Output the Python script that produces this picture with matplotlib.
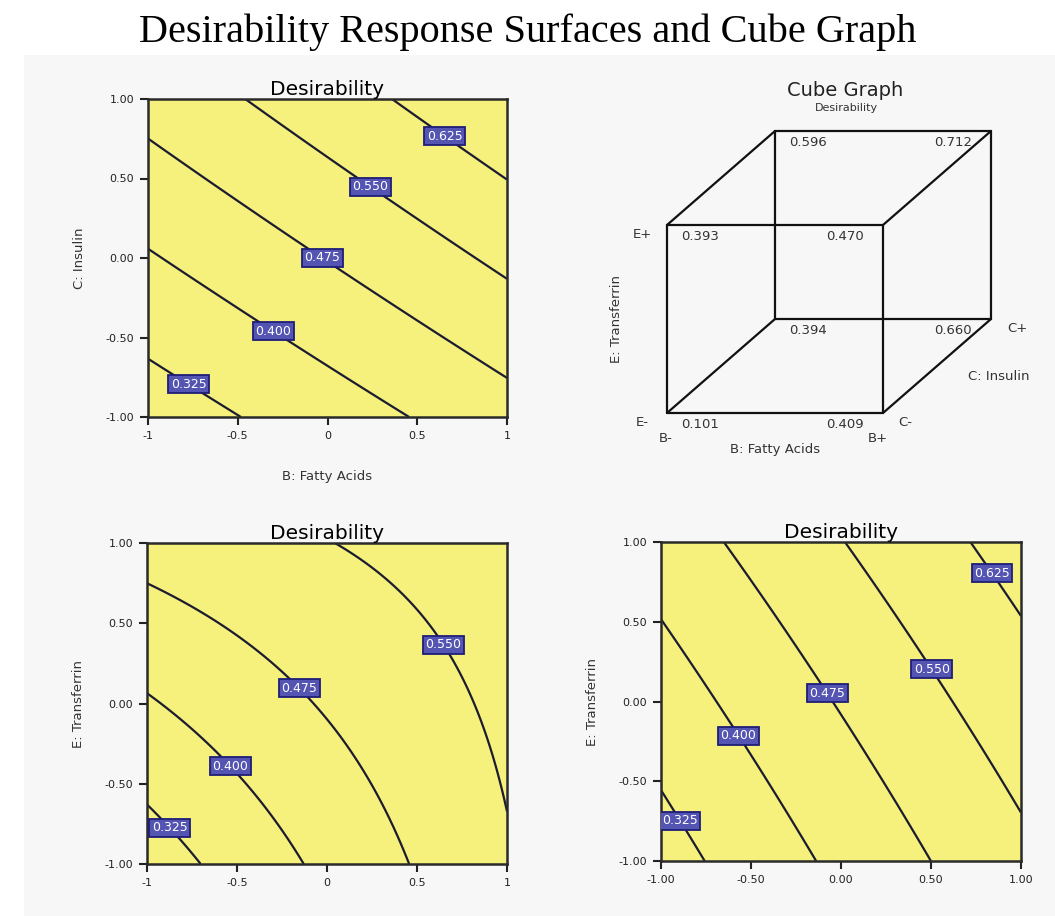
import numpy as np
import matplotlib
matplotlib.use("Agg")
import matplotlib.pyplot as plt
from matplotlib.patches import Rectangle

plt.rcParams['font.family'] = ['DejaVu Sans']

# contour levels shown in the three response surface plots
levels_bc = [0.325, 0.400, 0.475, 0.550, 0.625]
levels_be = [0.325, 0.400, 0.475, 0.550]
levels_ce = [0.325, 0.400, 0.475, 0.550, 0.625]

# points (x, y in coded units), one list per level
lines_bc = [
    [(-1, -0.64), (-0.76, -0.77), (-0.51, -1)],
    [(-1, 0.04), (-0.30, -0.455), (0.44, -1)],
    [(-1, 0.76), (-0.03, 0.0), (1, -0.74)],
    [(-0.46, 1), (0.24, 0.448), (1, -0.14)],
    [(0.34, 1), (0.665, 0.784), (1, 0.48)],
]
lines_be = [
    [(-1, -0.64), (-0.855, -0.755), (-0.707, -1)],
    [(-1, 0.032), (-0.53, -0.382), (-0.147, -1)],
    [(-1, 0.757), (-0.147, 0.105), (0.453, -1)],
    [(0.054, 1), (0.629, 0.353), (1, -0.61)],
]
lines_ce = [
    [(-1, -0.566), (-0.874, -0.733), (-0.763, -1)],
    [(-1, 0.499), (-0.578, -0.22), (-0.148, -1)],
    [(-0.643, 1), (-0.074, 0.054), (0.496, -1)],
    [(0.024, 1), (0.511, 0.207), (1, -0.681)],
    [(0.709, 1), (0.848, 0.812), (1, 0.509)],
]

# where the contour labels sit
labpos_bc = [(-0.76, -0.77), (-0.30, -0.455), (-0.03, 0.0), (0.24, 0.448), (0.665, 0.784)]
labpos_be = [(-0.855, -0.755), (-0.53, -0.382), (-0.147, 0.105), (0.629, 0.353)]
labpos_ce = [(-0.874, -0.733), (-0.578, -0.22), (-0.074, 0.054), (0.511, 0.207), (0.848, 0.812)]

# cube graph: desirability at each corner (B, C, E)
cube_b = [-1, 1, -1, 1, -1, 1, -1, 1]
cube_c = [-1, -1, 1, 1, -1, -1, 1, 1]
cube_e = [-1, -1, -1, -1, 1, 1, 1, 1]
cube_d = [0.101, 0.409, 0.394, 0.660, 0.393, 0.470, 0.596, 0.712]

ticks = [-1, -0.5, 0, 0.5, 1]
ticklab_short = ['-1', '-0.5', '0', '0.5', '1']
ticklab_long = ['-1.00', '-0.50', '0.00', '0.50', '1.00']

W, H = 1055, 916
fig = plt.figure(figsize=(W / 100, H / 100), dpi=100)
bg = Rectangle((24 / W, 0), 1, 1 - 55 / H, transform=fig.transFigure,
               facecolor='#f7f7f7', edgecolor='none', zorder=-10)
fig.add_artist(bg)

fig.text(0.5, 1 - 32 / H, 'Desirability Response Surfaces and Cube Graph',
         family='Liberation Serif', fontsize=29, ha='center', va='center')


def px_axes(x0, y0, x1, y1):
    return fig.add_axes([x0 / W, 1 - y1 / H, (x1 - x0) / W, (y1 - y0) / H])


def fit_surface(levels, lines):
    rows, vals = [], []
    for lev, pts in zip(levels, lines):
        for x, y in pts:
            rows.append([1, x, y, x * y, x * x, y * y])
            vals.append(lev)
    coef, *_ = np.linalg.lstsq(np.array(rows), np.array(vals), rcond=None)
    return coef


def contour_panel(ax, levels, lines, labpos, xlab, ylab, xticklabels):
    coef = fit_surface(levels, lines)
    g = np.linspace(-1, 1, 301)
    X, Y = np.meshgrid(g, g)
    Z = coef[0] + coef[1] * X + coef[2] * Y + coef[3] * X * Y + coef[4] * X ** 2 + coef[5] * Y ** 2
    ax.set_facecolor('#f6f07c')
    cs = ax.contour(X, Y, Z, levels=levels, colors='#1c1c30', linewidths=1.6)
    txts = ax.clabel(cs, levels, inline=False, fmt='%.3f', manual=labpos, fontsize=9)
    for t in txts:
        t.set_rotation(0)
        t.set_color('white')
        t.set_bbox(dict(boxstyle='square,pad=0.2', facecolor='#5454b2',
                        edgecolor='#1e1e78', linewidth=1.3))
    ax.set_xlim(-1, 1)
    ax.set_ylim(-1, 1)
    ax.set_xticks(ticks)
    ax.set_xticklabels(xticklabels)
    ax.set_yticks(ticks)
    ax.set_yticklabels(ticklab_long)
    ax.tick_params(direction='out', length=6, width=1.5, labelsize=8, colors='#222222', pad=4)
    for s in ax.spines.values():
        s.set_linewidth(1.8)
        s.set_color('#2a2a2a')
    ax.set_title('Desirability', fontsize=14.5, pad=1)
    if xlab:
        ax.set_xlabel(xlab, fontsize=9.5, labelpad=21, color='#333333')
    ax.set_ylabel(ylab, fontsize=9.5, labelpad=14, color='#333333')


ax1 = px_axes(148, 99, 507, 417)
contour_panel(ax1, levels_bc, lines_bc, labpos_bc, 'B: Fatty Acids', 'C: Insulin', ticklab_short)

ax3 = px_axes(147, 543, 507, 864)
contour_panel(ax3, levels_be, lines_be, labpos_be, None, 'E: Transferrin', ticklab_short)

ax4 = px_axes(661, 542, 1021, 861)
contour_panel(ax4, levels_ce, lines_ce, labpos_ce, None, 'E: Transferrin', ticklab_long)

# cube graph
axc = px_axes(560, 80, 1055, 470)
axc.set_xlim((560 - 775) / 108, (1055 - 775) / 108)
axc.set_ylim((319 - 470) / 94, (319 - 80) / 94)
axc.axis('off')


def proj(b, c, e):
    return b + (c + 1) / 2, e + (c + 1) / 2


for i in range(8):
    for j in range(i + 1, 8):
        diff = (cube_b[i] != cube_b[j]) + (cube_c[i] != cube_c[j]) + (cube_e[i] != cube_e[j])
        if diff == 1:
            p, q = proj(cube_b[i], cube_c[i], cube_e[i]), proj(cube_b[j], cube_c[j], cube_e[j])
            axc.plot([p[0], q[0]], [p[1], q[1]], color='#111111', lw=1.6, solid_capstyle='round')

for b, c, e, d in zip(cube_b, cube_c, cube_e, cube_d):
    off = (33, -11) if b < 0 else (-38, -11)
    axc.annotate(f'{d:.3f}', proj(b, c, e), xytext=off, textcoords='offset pixels',
                 ha='center', va='center', fontsize=9.5, color='#333333')

corner_labels = [
    ('E+', (-1, -1, 1), (-25, -9)),
    ('E-', (-1, -1, -1), (-25, -9)),
    ('B-', (-1, -1, -1), (-1, -25)),
    ('B+', (1, -1, -1), (-5, -25)),
    ('C-', (1, -1, -1), (22, -9)),
    ('C+', (1, 1, -1), (26, -9)),
    ('C: Insulin', (1, 1, -1), (8, -57)),
    ('B: Fatty Acids', (0, -1, -1), (0, -36)),
]
for txt, corner, off in corner_labels:
    axc.annotate(txt, proj(*corner), xytext=off, textcoords='offset pixels',
                 ha='center', va='center', fontsize=9.5, color='#333333')
axc.annotate('E: Transferrin', proj(-1, -1, 0), xytext=(-50, 0), textcoords='offset pixels',
             ha='center', va='center', fontsize=9.5, color='#333333', rotation=90)

fig.text(845 / W, 1 - 90 / H, 'Cube Graph', fontsize=14, ha='center', va='center', color='#222222')
fig.text(846 / W, 1 - 108 / H, 'Desirability', fontsize=8, ha='center', va='center', color='#333333')

fig.savefig('out.png', dpi=100)
